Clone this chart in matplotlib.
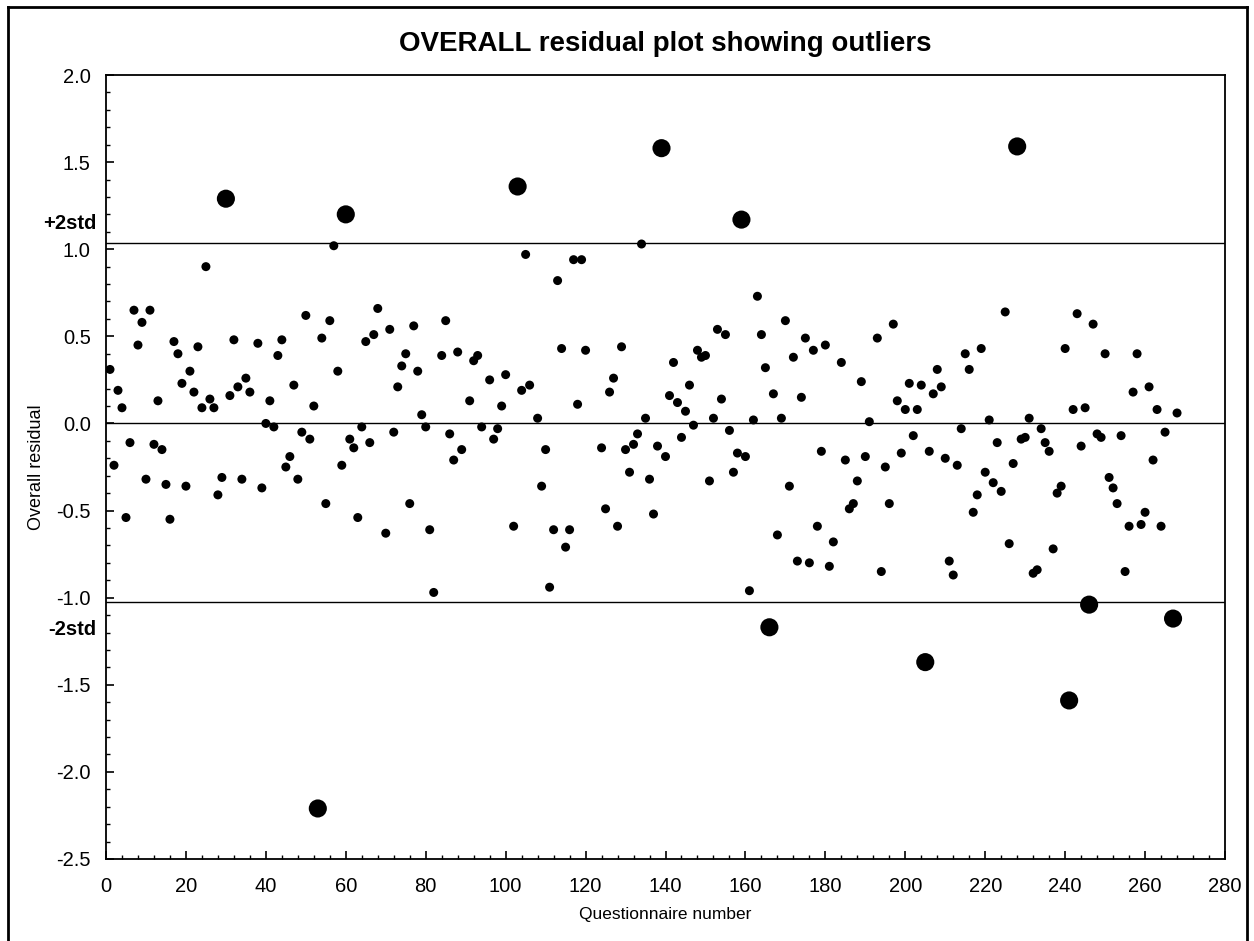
import matplotlib
matplotlib.use("Agg")
import matplotlib.pyplot as plt
from matplotlib.lines import Line2D
import numpy as np

plt.rcParams['font.family'] = ['Liberation Sans', 'DejaVu Sans']

# Regular points: questionnaire number, residual
q_num = [1, 2, 3, 4, 5, 6, 7, 8, 9, 10, 11, 12, 13, 14, 15, 16, 17, 18, 19, 20,
         21, 22, 23, 24, 25, 26, 27, 28, 29, 31, 32, 33, 34, 35, 36, 38, 39, 40, 41, 42,
         43, 44, 45, 46, 47, 48, 49, 50, 51, 52, 54, 55, 56, 57, 58, 59, 61, 62, 63, 64,
         65, 66, 67, 68, 70, 71, 72, 73, 74, 75, 76, 77, 78, 79, 80, 81, 82, 84, 85, 86,
         87, 88, 89, 91, 92, 93, 94, 96, 97, 98, 99, 100, 102, 104, 105, 106, 108, 109, 110, 111,
         112, 113, 114, 115, 116, 117, 118, 119, 120, 124, 125, 126, 127, 128, 129, 130, 131, 132, 133, 134,
         135, 136, 137, 138, 140, 141, 142, 143, 144, 145, 146, 147, 148, 149, 150, 151, 152, 153, 154, 155,
         156, 157, 158, 160, 161, 162, 163, 164, 165, 167, 168, 169, 170, 171, 172, 173, 174, 175, 176, 177,
         178, 179, 180, 181, 182, 184, 185, 186, 187, 188, 189, 190, 191, 193, 194, 195, 196, 197, 198, 199,
         200, 201, 202, 203, 204, 206, 207, 208, 209, 210, 211, 212, 213, 214, 215, 216, 217, 218, 219, 220,
         221, 222, 223, 224, 225, 226, 227, 229, 230, 231, 232, 233, 234, 235, 236, 237, 238, 239, 240, 242,
         243, 244, 245, 247, 248, 249, 250, 251, 252, 253, 254, 255, 256, 257, 258, 259, 260, 261, 262, 263,
         264, 265, 268]
residual = [0.31, -0.24, 0.19, 0.09, -0.54, -0.11, 0.65, 0.45, 0.58, -0.32, 0.65, -0.12, 0.13, -0.15, -0.35, -0.55, 0.47, 0.40, 0.23, -0.36,
            0.30, 0.18, 0.44, 0.09, 0.90, 0.14, 0.09, -0.41, -0.31, 0.16, 0.48, 0.21, -0.32, 0.26, 0.18, 0.46, -0.37, 0.00, 0.13, -0.02,
            0.39, 0.48, -0.25, -0.19, 0.22, -0.32, -0.05, 0.62, -0.09, 0.10, 0.49, -0.46, 0.59, 1.02, 0.30, -0.24, -0.09, -0.14, -0.54, -0.02,
            0.47, -0.11, 0.51, 0.66, -0.63, 0.54, -0.05, 0.21, 0.33, 0.40, -0.46, 0.56, 0.30, 0.05, -0.02, -0.61, -0.97, 0.39, 0.59, -0.06,
            -0.21, 0.41, -0.15, 0.13, 0.36, 0.39, -0.02, 0.25, -0.09, -0.03, 0.10, 0.28, -0.59, 0.19, 0.97, 0.22, 0.03, -0.36, -0.15, -0.94,
            -0.61, 0.82, 0.43, -0.71, -0.61, 0.94, 0.11, 0.94, 0.42, -0.14, -0.49, 0.18, 0.26, -0.59, 0.44, -0.15, -0.28, -0.12, -0.06, 1.03,
            0.03, -0.32, -0.52, -0.13, -0.19, 0.16, 0.35, 0.12, -0.08, 0.07, 0.22, -0.01, 0.42, 0.38, 0.39, -0.33, 0.03, 0.54, 0.14, 0.51,
            -0.04, -0.28, -0.17, -0.19, -0.96, 0.02, 0.73, 0.51, 0.32, 0.17, -0.64, 0.03, 0.59, -0.36, 0.38, -0.79, 0.15, 0.49, -0.80, 0.42,
            -0.59, -0.16, 0.45, -0.82, -0.68, 0.35, -0.21, -0.49, -0.46, -0.33, 0.24, -0.19, 0.01, 0.49, -0.85, -0.25, -0.46, 0.57, 0.13, -0.17,
            0.08, 0.23, -0.07, 0.08, 0.22, -0.16, 0.17, 0.31, 0.21, -0.20, -0.79, -0.87, -0.24, -0.03, 0.40, 0.31, -0.51, -0.41, 0.43, -0.28,
            0.02, -0.34, -0.11, -0.39, 0.64, -0.69, -0.23, -0.09, -0.08, 0.03, -0.86, -0.84, -0.03, -0.11, -0.16, -0.72, -0.40, -0.36, 0.43, 0.08,
            0.63, -0.13, 0.09, 0.57, -0.06, -0.08, 0.40, -0.31, -0.37, -0.46, -0.07, -0.85, -0.59, 0.18, 0.40, -0.58, -0.51, 0.21, -0.21, 0.08,
            -0.59, -0.05, 0.06]

# Outliers
out_num = [30, 53, 60, 103, 139, 159, 166, 205, 228, 241, 246, 267]
out_res = [1.29, -2.21, 1.20, 1.36, 1.58, 1.17, -1.17, -1.37, 1.59, -1.59, -1.04, -1.12]

upper_std = 1.035
lower_std = -1.027

W, H = 1254, 941
fig = plt.figure(figsize=(W / 100, H / 100), dpi=100)
ax = fig.add_axes([106 / W, 1 - 859 / H, (1225 - 106) / W, (859 - 75) / H])

ax.axhline(0, color='black', lw=1.0, zorder=1)
ax.axhline(upper_std, color='black', lw=1.0, zorder=1)
ax.axhline(lower_std, color='black', lw=1.0, zorder=1)

ax.scatter(q_num, residual, s=42, color='black', edgecolors='none', zorder=3)
ax.scatter(out_num, out_res, s=170, color='black', edgecolors='none', zorder=3)

ax.set_xlim(0, 280)
ax.set_ylim(-2.5, 2.0)
ax.set_xticks(np.arange(0, 281, 20))
ax.set_xticks(np.arange(0, 281, 4), minor=True)
ax.set_yticks(np.arange(-2.5, 2.01, 0.5))
ax.set_yticks(np.arange(-2.5, 2.01, 0.1), minor=True)
ax.set_yticklabels([f"{v:.1f}" for v in np.arange(-2.5, 2.01, 0.5)])
ax.tick_params(axis='both', which='major', direction='in', length=6, width=1.2, labelsize=14.5)
ax.tick_params(axis='x', which='major', pad=13)
ax.tick_params(axis='y', which='major', pad=11)
ax.tick_params(axis='both', which='minor', direction='in', length=3, width=1.0)
ax.tick_params(axis='y', which='both', right=False)
ax.tick_params(axis='x', which='both', top=False)
for sp in ax.spines.values():
    sp.set_linewidth(1.3)

ax.set_xlabel('Questionnaire number', fontsize=12.5, labelpad=8)
ax.set_ylabel('Overall residual', fontsize=13, labelpad=8)
ax.set_title('OVERALL residual plot showing outliers', fontsize=20, fontweight='bold', pad=17)

ax.text(-2.5, upper_std + 0.06, '+2std', ha='right', va='bottom', fontsize=14.5, fontweight='bold',
        transform=ax.transData, clip_on=False)
ax.text(-2.5, lower_std - 0.1, '-2std', ha='right', va='top', fontsize=14.5, fontweight='bold',
        transform=ax.transData, clip_on=False)

# figure border
x0, y0, x1 = 7.5 / W, 1 - 6.5 / H, 1247 / W
fig.add_artist(Line2D([x0, x0], [0, y0], color='black', lw=2, transform=fig.transFigure))
fig.add_artist(Line2D([x0, x1], [y0, y0], color='black', lw=2, transform=fig.transFigure))
fig.add_artist(Line2D([x1, x1], [0, y0], color='black', lw=2, transform=fig.transFigure))

fig.savefig('out.png', dpi=100, facecolor='white')
